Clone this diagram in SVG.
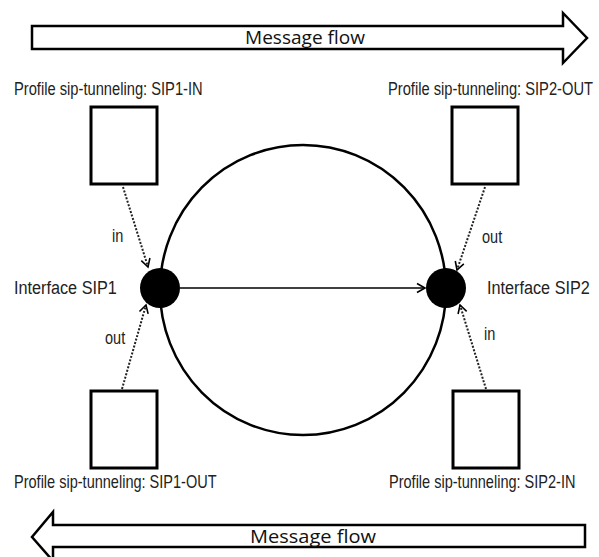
<svg xmlns="http://www.w3.org/2000/svg" width="599" height="557" viewBox="0 0 599 557">
  <style>
    .big { fill: #fff; stroke: #000; stroke-width: 2.5; }
    .box { fill: #fff; stroke: #000; stroke-width: 3; }
    .flow { font-family: "Open Sans", "Liberation Sans", sans-serif; font-size: 18px; fill: #111; }
    .lbl { font-family: "Liberation Sans", Arial, sans-serif; font-size: 17.5px; fill: #222; }
    .ifc { font-family: "Liberation Sans", Arial, sans-serif; font-size: 19px; fill: #222; }
    .dot { fill: #000; }
    .dash { fill: none; stroke: #222; stroke-width: 2; stroke-dasharray: 2 1.6; }
    .solid { fill: none; stroke: #000; stroke-width: 1.6; }
  </style>
  <defs>
    <marker id="vh" markerUnits="userSpaceOnUse" markerWidth="14" markerHeight="14" viewBox="-10 -7 12 14" refX="0" refY="0" orient="auto">
      <path d="M-8,-4.5 L0,0 L-8,4.5" fill="none" stroke="#000" stroke-width="1.6"/>
    </marker>
  </defs>
  <rect width="599" height="557" fill="#fff"/>

  <g id="flow-top">
    <polygon class="big" points="32,26 563,26 563,13 587,38 563,63 563,49 32,49"/>
    <text class="flow" x="305" y="44" text-anchor="middle" textLength="120" lengthAdjust="spacingAndGlyphs">Message flow</text>
  </g>
  <g id="flow-bottom">
    <polygon class="big" points="585,525 53,525 53,512 32,537 53,561 53,547 585,547"/>
    <text class="flow" x="313" y="543" text-anchor="middle" textLength="126" lengthAdjust="spacingAndGlyphs">Message flow</text>
  </g>

  <g id="ring">
    <ellipse cx="303" cy="290" rx="143" ry="145" fill="none" stroke="#000" stroke-width="2.5"/>
  </g>

  <g id="connectors">
    <line class="solid" x1="180" y1="288" x2="425" y2="288" marker-end="url(#vh)"/>
    <line class="dash" x1="123" y1="187" x2="148" y2="267" marker-end="url(#vh)"/>
    <line class="dash" x1="122" y1="389" x2="146" y2="305" marker-end="url(#vh)"/>
    <line class="dash" x1="485" y1="187" x2="457" y2="270" marker-end="url(#vh)"/>
    <line class="dash" x1="486" y1="389" x2="460" y2="305" marker-end="url(#vh)"/>
    <text class="lbl" transform="translate(112,242) scale(0.83,1)">in</text>
    <text class="lbl" transform="translate(105,344) scale(0.83,1)">out</text>
    <text class="lbl" transform="translate(482,243) scale(0.83,1)">out</text>
    <text class="lbl" transform="translate(484,340) scale(0.83,1)">in</text>
  </g>

  <g id="sip1">
    <circle class="dot" cx="160" cy="288" r="20"/>
    <text class="ifc" transform="translate(14,294) scale(0.855,1)">Interface SIP1</text>
  </g>
  <g id="sip2">
    <circle class="dot" cx="446" cy="288" r="20"/>
    <text class="ifc" transform="translate(487,294) scale(0.855,1)">Interface SIP2</text>
  </g>

  <g id="profile-sip1-in">
    <rect class="box" x="91" y="107" width="66" height="77"/>
    <text class="lbl" transform="translate(14,95) scale(0.84,1)">Profile sip-tunneling: SIP1-IN</text>
  </g>
  <g id="profile-sip2-out">
    <rect class="box" x="452" y="107" width="66" height="77"/>
    <text class="lbl" transform="translate(388,95) scale(0.84,1)">Profile sip-tunneling: SIP2-OUT</text>
  </g>
  <g id="profile-sip1-out">
    <rect class="box" x="91" y="391" width="66" height="77"/>
    <text class="lbl" transform="translate(14,488) scale(0.83,1)">Profile sip-tunneling: SIP1-OUT</text>
  </g>
  <g id="profile-sip2-in">
    <rect class="box" x="453" y="391" width="66" height="77"/>
    <text class="lbl" transform="translate(389,488) scale(0.83,1)">Profile sip-tunneling: SIP2-IN</text>
  </g>
</svg>
